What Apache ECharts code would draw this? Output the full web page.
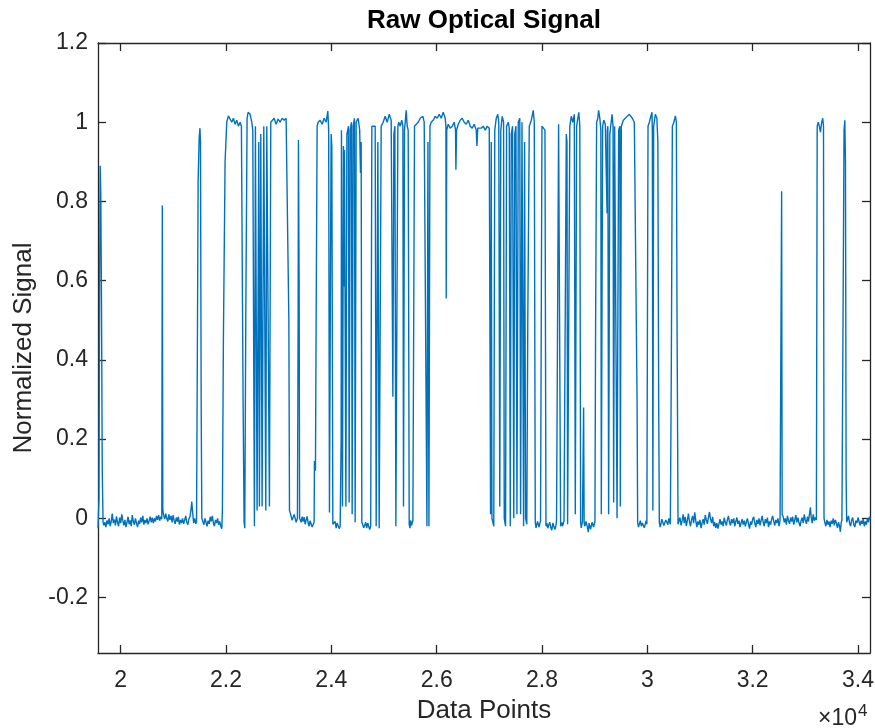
<!DOCTYPE html>
<html>
<head>
<meta charset="utf-8">
<script src="https://cdn.jsdelivr.net/npm/echarts@6/dist/echarts.min.js"></script>
<style>
html,body{margin:0;padding:0;background:#fff;}
#chart{width:875px;height:728px;}
</style>
</head>
<body>
<div id="chart"></div>
<script>
// ---- data (x in data points, y normalized signal) ----
const xTicks = [20000, 22000, 24000, 26000, 28000, 30000, 32000, 34000];
const yTicks = [-0.2, 0, 0.2, 0.4, 0.6, 0.8, 1, 1.2];
const xRange = [19569, 34228];
const yRange = [-0.34, 1.2];

const leadIn = [[19569,-0.025],[19588,0.05],[19600,0.6],[19610,0.89],[19622,0.82],[19635,0.55],[19650,0.12],[19665,-0.01]];
const quiet1 = [[19680,-0.018],[19700,-0.01],[19720,-0.022],[19740,-0.005],[19760,-0.015],[19780,0.0],[19800,-0.02],[19820,-0.008],[19840,0.012],[19860,-0.012],[19880,-0.003],[19900,-0.018],[19920,0.005],[19940,-0.01],[19960,-0.02],[19980,0.002],[20000,-0.012],[20020,0.01],[20040,-0.006],[20060,-0.018],[20080,-0.004],[20100,-0.022],[20120,-0.01],[20140,0.004],[20160,-0.015],[20180,-0.005],[20200,-0.02],[20220,0.008],[20240,-0.008],[20260,-0.016],[20280,0.0],[20300,-0.012],[20320,-0.022],[20340,-0.006],[20360,-0.014],[20380,0.002],[20400,-0.01],[20420,0.006],[20440,-0.016],[20460,-0.004],[20480,-0.012],[20500,0.0],[20520,-0.015],[20540,-0.006],[20560,0.004],[20580,-0.01],[20600,0.002],[20620,-0.012],[20640,0.0],[20660,-0.008],[20680,0.006],[20700,-0.004],[20720,0.008],[20740,-0.006],[20760,0.004],[20780,-0.002],
  [20790,0.79],[20800,0.02]];
const quiet2 = [[20815,0.008],[20835,-0.002],[20855,0.012],[20875,0.0],[20895,-0.008],[20915,0.01],[20935,-0.004],[20955,0.006],[20975,-0.01],[20995,0.008],[21015,-0.006],[21035,-0.014],[21055,0.002],[21075,-0.008],[21095,0.004],[21115,-0.016],[21135,-0.004],[21155,-0.012],[21175,0.0],[21195,-0.014],[21215,-0.004],[21235,0.006],[21255,-0.01],[21275,-0.016],[21295,-0.002],[21315,0.004],[21335,0.022],[21350,0.042],[21365,0.016],[21385,-0.012],[21405,0.0],[21425,-0.014],[21440,-0.008],
  [21455,0.4],[21470,0.85],[21490,0.96],[21505,0.985],[21515,0.95],[21528,0.3],[21540,0.0]];
const quiet3 = [[21560,-0.008],[21580,-0.016],[21600,0.0],[21620,-0.01],[21640,-0.02],[21660,-0.006],[21680,-0.014],[21700,0.004],[21720,-0.008],[21740,0.006],[21760,-0.012],[21780,-0.02],[21800,-0.004],[21820,-0.012],[21840,0.0],[21860,-0.016],[21880,-0.008],[21900,-0.02],[21920,-0.026]];
const burstA = [[21931,0.02],[21950,0.45],[21982,0.9],[22014,1.0],[22026,1.005],[22045,1.016],[22077,1.02],[22109,1.0],[22140,1.01],[22172,0.995],[22204,1.005],[22235,0.99],[22267,1.0],[22292,0.99],
  [22324,0.3],[22343,-0.01],[22356,-0.025],[22375,0.5],[22400,1.01],[22419,1.025],[22457,1.02],[22489,1.0],[22508,0.98],
  [22539,-0.02],[22558,0.99],[22590,0.02],[22622,0.95],[22634,0.03],[22660,0.97],[22685,0.03],[22717,0.99],[22755,0.02],[22774,0.99],[22824,0.03],[22850,1.0],
  [22875,1.0],[22913,1.01],[22951,0.995],[22989,1.008],[23027,1.0],[23065,1.01],[23103,1.005],[23141,1.01],[23174,1.01],
  [23193,0.5],[23205,0.02],[23227,0.01],[23255,-0.005],[23293,0.01],[23331,-0.01],[23356,0.0],[23369,0.5],[23375,0.955],[23388,0.6],[23397,0.0],
  [23426,-0.01],[23445,0.004],[23464,-0.008],[23483,0.003],[23502,-0.015],[23521,-0.004],[23540,0.005],[23559,-0.012],[23578,-0.02],[23597,-0.006],[23616,-0.008],[23635,-0.022],[23654,-0.018],[23673,-0.01]];
const burstB = [[23679,0.145],[23698,0.12],[23711,0.5],[23730,0.99],[23749,1.0],[23787,1.005],[23825,0.995],[23863,1.01],[23901,1.0],[23933,1.028],[23949,0.98],
  [23964,0.015],[23983,0.6],[23996,0.97],[24009,0.94],[24028,-0.015],[24053,-0.02],[24072,-0.008],[24091,-0.025],[24110,-0.012],[24129,-0.015],[24148,-0.026],[24167,-0.02],
  [24186,0.2],[24192,0.98],[24211,0.03],[24230,0.94],[24238,0.585],[24249,0.93],[24276,0.03],[24295,0.97],[24325,0.99],[24338,0.04],[24357,0.98],[24382,1.0],[24395,0.01],[24414,0.99],[24439,1.01],[24452,-0.01],[24471,1.0],[24509,1.01],[24538,0.98],[24553,0.872],[24566,0.95],[24579,-0.01],
  [24598,-0.015],[24615,-0.024],[24633,-0.02],[24652,-0.01],[24671,-0.025],[24690,-0.012],[24709,-0.015],[24728,-0.028],[24747,-0.02],
  [24769,0.99],[24804,0.985],[24832,0.99],[24851,-0.02],[24883,0.95],[24908,-0.025],[24946,0.99],[24984,1.0],[25022,1.015],[25060,1.0],[25098,1.02],[25136,1.005],[25161,1.0],[25168,0.307],[25187,0.97],[25206,0.99],[25225,-0.02],[25244,0.5],[25263,0.99]];
const burstC = [[25279,1.0],[25307,0.99],[25336,1.005],[25358,0.99],[25370,0.03],[25389,0.98],[25402,1.0],[25421,1.03],[25440,0.99],[25459,0.98],[25478,-0.015],
  [25493,-0.025],[25507,-0.005],[25521,-0.018],[25535,-0.02],[25548,-0.006],[25560,-0.01],[25579,0.99],[25611,0.995],[25649,1.0],[25687,1.01],[25738,1.015],[25763,1.0],[25792,0.995],[25815,-0.02],[25834,0.95],[25853,-0.02],[25872,0.99],
  [25896,1.0],[25934,1.005],[25972,1.015],[26010,1.01],[26048,1.02],[26086,1.01],[26124,1.025],[26162,1.01],[26175,0.99],[26181,0.555],[26191,0.98],
  [26219,0.995],[26257,0.985],[26295,0.99],[26333,1.0],[26358,0.98],[26365,0.88],[26377,0.98],[26409,0.995],[26447,1.005],[26485,1.01],[26523,1.0],[26561,0.995],[26599,1.005],[26637,0.99],[26675,0.985],[26713,0.995],[26751,0.98],[26764,0.94],[26780,0.985],[26808,0.99],[26846,0.985],[26884,0.99],[26922,0.98],[26960,0.99],[26998,0.985]];
const burstD = [[27023,0.01],[27036,0.95],[27049,0.0],[27068,-0.01],[27084,-0.02],[27103,0.98],[27131,1.01],[27160,1.02],[27179,1.0],[27198,0.03],[27217,0.98],[27245,1.015],[27270,1.0],[27283,0.0],[27308,-0.02],[27327,0.99],[27359,1.0],[27378,0.985],[27397,-0.02],[27416,0.97],[27441,0.99],[27464,0.0],[27483,0.97],[27505,0.99],[27524,0.01],[27549,1.0],[27578,1.01],[27593,0.01],[27620,1.0],[27650,-0.02],[27669,0.95],[27688,0.0],[27711,-0.015],[27730,0.5],[27758,0.99],[27796,1.005],[27834,1.03],[27853,1.0],[27872,-0.01],
  [27887,-0.024],[27901,-0.02],[27915,-0.008],[27929,-0.005],[27944,-0.022],[27958,-0.018],[27972,-0.006],[27986,-0.01],[27999,0.99],[28024,0.995],[28056,0.98],[28075,-0.02],
  [28092,-0.012],[28110,-0.025],[28129,-0.016],[28148,-0.01],[28167,-0.024],[28186,-0.03],[28205,-0.012],[28224,-0.015],[28243,-0.028],[28262,-0.02],[28276,-0.006],[28290,-0.01],[28315,0.995],[28334,1.0],[28353,-0.02],[28376,-0.01],[28390,-0.02],[28404,-0.025],[28418,-0.006],[28433,-0.01],[28461,0.97],[28474,0.95],[28486,-0.015],
  [28505,-0.02],[28528,0.99],[28556,1.015],[28585,1.0],[28613,1.02],[28632,0.01],[28657,0.99],[28680,1.01],[28699,1.025],[28718,0.99],[28733,-0.01]];
const burstE = [[28745,-0.024],[28756,-0.02],[28768,-0.008],[28780,-0.005],[28790,0.28],[28800,-0.01],[28811,-0.02],[28822,-0.025],[28836,-0.008],[28851,-0.01],[28865,-0.024],[28879,-0.035],[28894,-0.012],[28908,-0.015],[28922,-0.028],[28936,-0.025],[28950,-0.01],[28965,-0.005],[28979,-0.022],[28993,-0.02],[29005,-0.008],
  [29018,0.5],[29037,1.0],[29060,1.01],[29075,1.03],[29098,1.01],[29117,0.98],[29126,0.01],[29151,0.99],[29174,1.005],[29202,0.995],[29227,0.99],[29235,0.77],[29240,0.98],[29250,0.99],[29265,0.01],[29288,0.97],[29330,1.02],[29349,0.99],[29360,0.04],[29379,0.99],[29402,0.99],[29425,0.0],[29455,0.98],[29478,0.99],[29487,0.03],[29506,0.99],
  [29544,1.005],[29582,1.01],[29620,1.015],[29658,1.02],[29683,1.025],[29715,1.01],[29753,1.0],[29782,0.995],[29805,0.3],[29816,-0.01],
  [29832,-0.022],[29848,-0.015],[29867,-0.006],[29886,-0.02],[29905,-0.012],[29924,-0.01],[29943,-0.024],[29962,-0.02],[29977,-0.006],[29991,-0.015],
  [30013,0.99],[30038,1.0],[30067,1.015],[30089,1.025],[30095,0.97],[30105,0.02],[30120,0.99],[30152,1.02],[30181,1.01],[30200,0.95],[30215,0.3],[30228,-0.01],
  [30242,-0.022],[30256,-0.015],[30275,-0.002],[30294,-0.005],[30313,-0.018],[30332,-0.02],[30351,-0.004],[30371,-0.01],[30390,-0.016],[30409,0.0],[30423,-0.008],[30437,-0.015],
  [30456,0.4],[30475,0.99],[30504,1.0],[30532,1.016],[30551,1.0],[30564,0.5],[30583,-0.015]];
const quiet4 = [[30600,-0.01],[30620,0.002],[30640,-0.018],[30660,-0.006],[30680,0.01],[30700,-0.012],[30720,0.004],[30740,-0.02],[30760,-0.005],[30780,0.012],[30800,-0.008],[30820,-0.02],[30840,-0.004],[30860,0.006],[30880,-0.012],[30900,0.015],[30920,-0.006],[30940,-0.022],[30960,-0.008],[30980,-0.016],[31000,-0.004],[31020,-0.025],[31040,-0.012],[31060,-0.002],[31080,-0.016],[31100,0.008],[31120,-0.004],[31140,-0.014],[31160,0.002],[31180,0.016],[31200,-0.002],[31220,-0.012],[31240,0.004],[31260,-0.02],[31280,-0.01],[31300,-0.024],[31320,-0.012],[31340,-0.026],[31360,-0.014],[31380,-0.002],[31400,-0.016],[31420,-0.008],[31440,-0.02],[31460,0.002],[31480,-0.01],[31500,-0.018],[31520,-0.004],[31540,0.006],[31560,-0.01],[31580,-0.018],[31600,-0.002],[31620,-0.012],[31640,0.0],[31660,-0.02],[31680,-0.008],[31700,0.002],[31720,-0.014],[31740,-0.006],[31760,-0.022],[31780,-0.012],[31800,-0.002],[31820,-0.016],[31840,-0.006],[31860,-0.02],[31880,-0.01],[31900,0.0],[31920,-0.014],[31940,-0.026],[31960,-0.008],[31980,-0.016],[32000,-0.002],[32020,0.004],[32040,-0.012],[32060,-0.022],[32080,-0.004],[32100,-0.014],[32120,0.0],[32140,-0.018],[32160,-0.006],[32180,0.006],[32200,-0.01],[32220,-0.02],[32240,-0.002],[32260,-0.012],[32280,0.002],[32300,-0.022],[32320,-0.008],[32340,-0.016],[32360,-0.002],[32380,0.006],[32400,-0.008],[32420,-0.018],[32440,-0.004],[32460,-0.012],[32480,0.0],[32500,-0.02],[32520,-0.006],[32540,-0.01],
  [32550,0.826],[32560,0.01]];
const quiet5 = [[32580,0.004],[32600,-0.01],[32620,0.0],[32640,-0.016],[32660,0.006],[32680,-0.006],[32700,-0.014],[32720,0.002],[32740,-0.008],[32760,0.004],[32780,-0.016],[32800,-0.004],[32820,0.008],[32840,-0.01],[32860,0.002],[32880,-0.012],[32900,-0.02],[32920,-0.006],[32940,0.002],[32960,-0.012],[32980,0.01],[33000,-0.004],[33020,-0.014],[33040,0.004],[33060,-0.008],[33080,0.012],[33097,0.028],[33110,0.004],[33130,-0.012],[33150,0.01],[33170,-0.006],[33190,0.002],[33210,-0.004],
  [33225,0.99],[33245,1.0],[33265,0.99],[33287,0.975],[33305,0.995],[33330,1.01],[33345,0.99],[33355,0.0],
  [33370,-0.01],[33390,-0.02],[33410,-0.004],[33430,-0.016],[33450,-0.008],[33470,-0.022],[33490,-0.006],[33510,-0.014],[33530,0.0],[33550,-0.018],[33570,-0.004],[33590,-0.012],[33610,-0.024],[33630,-0.01],[33650,-0.02],[33665,-0.034],[33680,-0.012],[33695,-0.004],
  [33720,0.6],[33735,0.98],[33750,1.005],[33762,0.9],[33775,0.1],[33785,-0.01],
  [33800,-0.006],[33820,0.006],[33840,-0.012],[33860,-0.02],[33880,-0.004],[33900,0.002],[33920,-0.016],[33940,-0.022],[33960,-0.006],[33980,-0.012],[34000,0.002],[34020,-0.008],[34040,-0.018],[34060,-0.006],[34080,-0.014],[34100,-0.002],[34120,-0.02],[34140,-0.008],[34160,-0.016],[34180,0.0],[34200,-0.01],[34220,0.004],[34230,-0.002]];

const signal = [].concat(leadIn, quiet1, quiet2, quiet3, burstA, burstB, burstC, burstD, burstE, quiet4, quiet5);

// ---- chart ----
const FONT = '"Liberation Sans", Arial, Helvetica, sans-serif';
const INK = '#262626';
const chart = echarts.init(document.getElementById('chart'), null, {renderer: 'canvas'});

function axisBase(showLabel) {
  return {
    axisLine: {show: true, onZero: false, lineStyle: {color: INK, width: 1.3}},
    splitLine: {show: false},
    axisTick: {show: true, inside: true, length: 8, lineStyle: {color: INK, width: 1.3}},
    axisLabel: {show: showLabel, color: INK, fontFamily: FONT, fontSize: 23}
  };
}

const xBottom = axisBase(true);
xBottom.axisTick.customValues = xTicks;
xBottom.axisLabel.customValues = xTicks;
xBottom.axisLabel.margin = 16;
xBottom.axisLabel.formatter = v => String(+(v / 10000).toFixed(1));
const xTop = axisBase(false);
xTop.axisTick.customValues = xTicks;

const yLeft = axisBase(true);
yLeft.axisTick.customValues = yTicks;
yLeft.axisLabel.customValues = yTicks;
yLeft.axisLabel.margin = 10;
yLeft.axisLabel.formatter = v => String(+v.toFixed(1));
const yRight = axisBase(false);
yRight.axisTick.customValues = yTicks;

chart.setOption({
  animation: false,
  backgroundColor: '#fff',
  grid: {left: 98, top: 43, right: 5, bottom: 75, containLabel: false, outerBoundsMode: 'none'},
  xAxis: [
    Object.assign({type: 'value', position: 'bottom', min: xRange[0], max: xRange[1]}, xBottom),
    Object.assign({type: 'value', position: 'top', min: xRange[0], max: xRange[1]}, xTop)
  ],
  yAxis: [
    Object.assign({type: 'value', position: 'left', min: yRange[0], max: yRange[1]}, yLeft),
    Object.assign({type: 'value', position: 'right', min: yRange[0], max: yRange[1]}, yRight)
  ],
  series: [{
    type: 'line',
    data: signal,
    xAxisIndex: 0, yAxisIndex: 0,
    showSymbol: false,
    symbol: 'none',
    lineStyle: {color: '#0072BD', width: 1.4},
    clip: true
  }],
  graphic: [
    {type: 'text', x: 484, y: 21, style: {text: 'Raw Optical Signal', fill: '#000', font: 'bold 26px ' + FONT, textAlign: 'center', textVerticalAlign: 'middle'}},
    {type: 'text', x: 484, y: 711, style: {text: 'Data Points', fill: INK, font: '26px ' + FONT, textAlign: 'center', textVerticalAlign: 'middle'}},
    {type: 'text', x: 24, y: 348, rotation: Math.PI / 2, style: {text: 'Normalized Signal', fill: INK, font: '26px ' + FONT, textAlign: 'center', textVerticalAlign: 'middle'}},
    {type: 'text', x: 857, y: 719, style: {text: '\u00d710', fill: INK, font: '23px ' + FONT, textAlign: 'right', textVerticalAlign: 'middle'}},
    {type: 'text', x: 858, y: 711, style: {text: '4', fill: INK, font: '17px ' + FONT, textAlign: 'left', textVerticalAlign: 'middle'}}
  ]
});
</script>
</body>
</html>
